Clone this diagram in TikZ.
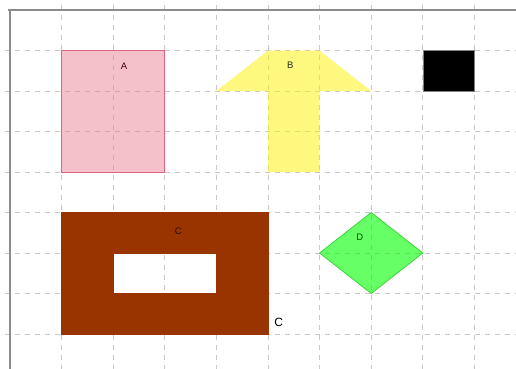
\documentclass[tikz,border=0pt]{standalone}
\usepackage{fontspec}
\setmainfont{Liberation Sans}
\usetikzlibrary{calc}
\definecolor{gridgray}{RGB}{200,200,200}
\definecolor{axisgray}{RGB}{140,140,140}
\definecolor{pinkfill}{RGB}{233,131,151}
\definecolor{pinkline}{RGB}{222,100,130}
\definecolor{brickbrown}{RGB}{153,51,0}
\definecolor{greenline}{RGB}{60,210,60}

\begin{document}
\begin{tikzpicture}[x=51.6bp, y=-40.5bp, font=\fontsize{9.5}{11}\selectfont]
		\useasboundingbox (-0.1938,-0.2469) rectangle (9.806,8.864);
		% grid
		\foreach \i in {1,...,8}
			\draw[gridgray, dashed, dash pattern=on 5bp off 5bp, line width=0.8bp] (-0.1,\i) -- (9.81,\i);
		\foreach \i in {1,...,9}
			\draw[gridgray, dashed, dash pattern=on 5bp off 5bp, line width=0.8bp] (\i,-0.12) -- (\i,8.87);
		% axes
		\draw[axisgray, line width=1.6bp] (-0.04,0) -- (9.81,0);
		\draw[axisgray, line width=1.6bp] (0,0) -- (0,8.87);
		% shape A
		\draw[pinkline, fill=pinkfill, fill opacity=0.5, line width=0.9bp] (1,1) rectangle (3,4);
		\node[text=black!75!red] (lblA) at (2.21,1.38) {A};
		% shape B, the arrow
		\fill[yellow, fill opacity=0.5] (5,1) -- (6,1) -- (7,2) -- (6,2) -- (6,4) -- (5,4) -- (5,2) -- (4,2) -- cycle;
		\node[text=black!85] (lblB) at (5.43,1.36) {B};
		% black square
		\draw[gray, fill=black, line width=0.6bp] (8,1) rectangle (9,2);
		% shape C, frame with hole
		\filldraw[brickbrown, even odd rule, line width=0.8bp] (1,5) rectangle (5,8) (2,6) rectangle (4,7);
		\node[text=black!70!brickbrown] (lblC) at (3.26,5.46) {C};
		\coordinate (Ccorner) at (5,8);
		\node[anchor=south west, font=\fontsize{12}{14}\selectfont, inner sep=0pt] (outC) at ($(Ccorner)+(0.12,-0.17)$) {C};
		% shape D, the diamond
		\draw[greenline, fill=green, fill opacity=0.6, line width=0.8bp] (7,5) -- (8,6) -- (7,7) -- (6,6) -- cycle;
		\node[text=black!70!green] (lblD) at (6.78,5.6) {D};
	\end{tikzpicture}
\end{document}
